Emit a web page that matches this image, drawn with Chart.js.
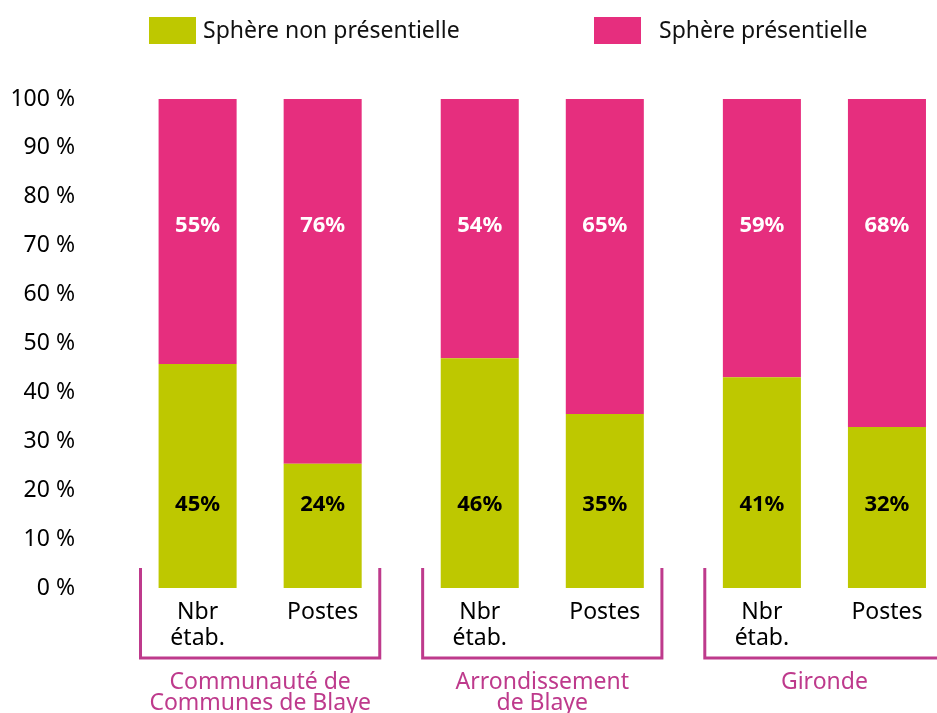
<!DOCTYPE html>
<html>
<head>
<meta charset="utf-8">
<script src="https://cdn.jsdelivr.net/npm/chart.js@4"></script>
<style>
    body { margin: 0; background: #fff; }
    #box { width: 937px; height: 713px; }
</style>
</head>
<body>
<div id="box"><canvas id="sphereChart"></canvas></div>
<script>
const groups = [['Communauté de', 'Communes de Blaye'], ['Arrondissement', 'de Blaye'], ['Gironde']];
const measures = [['Nbr', 'étab.'], ['Postes']];
const seriesNames = ['Sphère non présentielle', 'Sphère présentielle'];
const seriesColors = ['#BEC800', '#E62E7E'];

// bar heights as drawn
const nonPresNbr = [45.8, 47.0, 43.1];
const nonPresPostes = [25.4, 35.6, 32.9];
const presNbr = [54.2, 53.0, 56.9];
const presPostes = [74.6, 64.4, 67.1];

// printed values
const nonPresNbrText = ['45%', '46%', '41%'];
const nonPresPostesText = ['24%', '35%', '32%'];
const presNbrText = ['55%', '54%', '59%'];
const presPostesText = ['76%', '65%', '68%'];

const FONT = '"Noto Sans", sans-serif';
const MAGENTA = '#BE3A8C';

function toPoints(values) {
    return values.map((v, i) => ({x: i, y: v}));
}

function makeDataset(series, stack, values, texts) {
    return {
        label: seriesNames[series],
        stack: stack,
        data: toPoints(values),
        texts: texts,
        backgroundColor: seriesColors[series],
        borderWidth: 0,
        categoryPercentage: 0.8865,
        barPercentage: 0.624
    };
}

const extras = {
    id: 'extras',
    afterDatasetsDraw(chart) {
        const ctx = chart.ctx;
        const x = chart.scales.x;
        const y = chart.scales.y;
        const area = chart.chartArea;
        ctx.save();

        // legend
        ctx.font = '23px ' + FONT;
        ctx.textBaseline = 'middle';
        ctx.textAlign = 'left';
        const legendPos = [[149, 203], [594, 659]];
        seriesNames.forEach((name, i) => {
            ctx.fillStyle = seriesColors[i];
            ctx.fillRect(legendPos[i][0], 17, 47, 27);
            ctx.fillStyle = '#111';
            ctx.fillText(name, legendPos[i][1], 31);
        });

        // values inside bars
        ctx.font = 'bold 22px ' + FONT;
        ctx.textAlign = 'center';
        chart.data.datasets.forEach((ds, d) => {
            const meta = chart.getDatasetMeta(d);
            const top = d >= 2;
            ctx.fillStyle = top ? '#fff' : '#000';
            meta.data.forEach((bar, i) => {
                ctx.fillText(ds.texts[i], bar.x, y.getPixelForValue(top ? 74.0 : 17.0));
            });
        });

        // category labels under the bars
        ctx.font = '23px ' + FONT;
        ctx.fillStyle = '#000';
        [0, 1].forEach(m => {
            chart.getDatasetMeta(m).data.forEach(bar => {
                measures[m].forEach((line, k) => {
                    ctx.fillText(line, bar.x, area.bottom + 24 + k * 26);
                });
            });
        });

        // group brackets and names
        ctx.strokeStyle = MAGENTA;
        ctx.fillStyle = MAGENTA;
        ctx.lineWidth = 3;
        groups.forEach((lines, g) => {
            const l = x.getPixelForValue(g - 0.424);
            const r = x.getPixelForValue(g + 0.424);
            ctx.beginPath();
            ctx.moveTo(l, area.bottom - 20);
            ctx.lineTo(l, area.bottom + 70);
            ctx.lineTo(r, area.bottom + 70);
            ctx.lineTo(r, area.bottom - 20);
            ctx.stroke();
            lines.forEach((line, k) => {
                ctx.fillText(line, x.getPixelForValue(g), area.bottom + 94 + k * 21);
            });
        });
        ctx.restore();
    }
};

const config = {
    type: 'bar',
    data: {
        datasets: [
            makeDataset(0, 'nbr', nonPresNbr, nonPresNbrText),
            makeDataset(0, 'postes', nonPresPostes, nonPresPostesText),
            makeDataset(1, 'nbr', presNbr, presNbrText),
            makeDataset(1, 'postes', presPostes, presPostesText)
        ]
    },
    options: {
        responsive: true,
        maintainAspectRatio: false,
        animation: false,
        devicePixelRatio: 1,
        layout: {
            padding: {top: 99, bottom: 125, left: 0, right: 0}
        },
        scales: {
            x: {
                type: 'linear',
                offset: false,
                min: -0.603,
                max: 2.399,
                grid: {display: false, drawTicks: false, offset: false},
                border: {display: false},
                ticks: {display: false, stepSize: 1, includeBounds: false},
                afterFit: s => { s.height = 0; }
            },
            y: {
                stacked: true,
                min: 0,
                max: 100,
                grid: {display: false, drawTicks: false},
                border: {display: false},
                ticks: {
                    stepSize: 10,
                    padding: 15,
                    labelOffset: 0,
                    color: '#000',
                    font: {family: FONT, size: 23},
                    callback: v => v + ' %'
                },
                afterFit: s => { s.width = 90; }
            }
        },
        plugins: {
            legend: {display: false},
            tooltip: {enabled: false}
        }
    },
    plugins: [extras]
};

new Chart('sphereChart', config);
</script>
</body>
</html>
